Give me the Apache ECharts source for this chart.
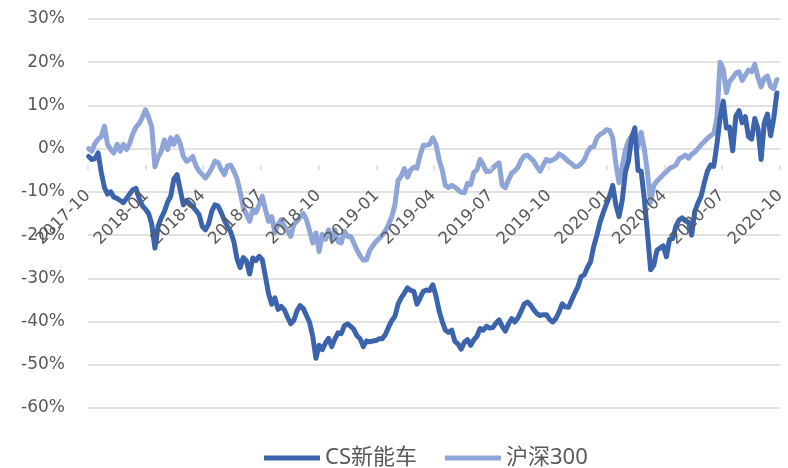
<!DOCTYPE html>
<html>
<head>
<meta charset="utf-8">
<script src="https://cdn.jsdelivr.net/npm/echarts@6/dist/echarts.min.js"></script>
<style>
  html, body { margin: 0; padding: 0; background: #ffffff; }
  #chart { width: 788px; height: 468px; }
</style>
</head>
<body>
<div id="chart"></div>
<script>
// Cumulative return (%) sampled every 5 calendar days from 2017-10-02
const startDate = [2017, 10, 2];
const stepDays = 5;

const seriesNames = ['CS新能车', '沪深300'];

const csNewEnergyVehicle = [
  -1.8,-2.5,-2.3,-1.0,-5.5,-9.0,-10.5,-10.0,-11.2,-11.5,
  -12.0,-12.5,-11.5,-10.5,-9.5,-9.2,-11.5,-13.2,-14.0,-15.0,
  -17.5,-23.0,-18.0,-16.0,-14.5,-12.4,-11.0,-7.0,-6.0,-9.5,
  -13.0,-12.0,-12.7,-13.4,-14.3,-15.3,-18.0,-18.8,-17.4,-14.5,
  -13.0,-13.3,-14.8,-16.6,-18.0,-19.3,-21.5,-25.5,-27.5,-25.2,
  -26.0,-29.0,-25.3,-25.9,-24.9,-25.7,-29.6,-33.6,-36.0,-34.5,
  -37.2,-36.5,-37.3,-39.0,-40.5,-39.7,-37.5,-36.3,-37.0,-38.6,
  -40.2,-43.5,-48.5,-45.5,-46.5,-45.0,-43.9,-45.8,-44.0,-42.6,
  -42.8,-41.0,-40.5,-41.1,-41.8,-43.3,-44.0,-45.8,-44.5,-44.7,
  -44.5,-44.4,-44.0,-44.0,-43.0,-41.3,-39.8,-38.8,-36.0,-34.5,
  -33.4,-32.2,-32.8,-33.0,-36.0,-34.5,-33.0,-32.7,-32.8,-31.5,
  -34.0,-37.5,-40.0,-42.0,-42.5,-42.0,-44.6,-45.2,-46.4,-44.8,
  -44.2,-45.5,-44.2,-43.4,-41.6,-42.0,-41.1,-41.5,-41.4,-40.4,
  -39.6,-41.1,-42.2,-40.5,-39.3,-40.1,-39.1,-37.6,-35.9,-35.5,
  -36.2,-37.3,-38.2,-38.6,-38.4,-38.4,-39.5,-40.1,-39.3,-37.8,
  -35.9,-36.6,-36.7,-35.0,-33.4,-31.9,-29.6,-29.2,-27.5,-26.1,
  -22.6,-20.0,-17.0,-14.8,-12.8,-11.0,-8.5,-13.0,-15.7,-12.0,
  -5.5,-2.8,2.5,4.8,-5.0,-5.2,-11.5,-19.5,-28.0,-27.0,
  -23.5,-23.0,-22.5,-25.0,-21.0,-20.8,-18.0,-16.5,-16.0,-16.7,
  -17.0,-20.0,-14.5,-12.6,-11.0,-7.9,-5.2,-3.8,-4.1,1.0,
  7.0,11.0,4.8,5.0,-0.5,7.5,8.8,6.0,7.4,2.8,
  2.2,7.0,4.6,-2.5,6.0,8.0,3.0,7.0,12.9
];

const hs300 = [
  0.0,-0.6,1.2,2.2,2.8,5.2,1.0,-0.2,-1.0,1.0,
  -0.6,1.0,-0.2,1.2,3.5,5.0,5.8,7.2,9.0,7.2,
  5.0,-4.2,-2.0,-0.6,2.0,-0.2,2.5,1.0,2.8,1.2,
  -1.8,-2.9,-2.5,-1.8,-4.0,-5.2,-6.0,-6.8,-5.8,-4.5,
  -2.9,-3.2,-4.8,-6.0,-4.0,-3.8,-5.2,-7.0,-10.0,-13.6,
  -15.2,-16.8,-14.1,-14.8,-13.0,-11.0,-14.1,-16.8,-15.7,-19.5,
  -17.5,-16.4,-18.0,-19.1,-20.3,-17.5,-16.8,-15.8,-15.0,-16.5,
  -19.0,-21.8,-19.5,-23.8,-19.8,-21.0,-18.8,-21.0,-18.8,-21.5,
  -21.8,-19.1,-20.3,-20.3,-21.8,-23.5,-24.8,-25.8,-25.7,-23.6,
  -22.5,-21.5,-20.8,-20.0,-19.0,-17.5,-15.8,-13.0,-7.4,-6.4,
  -4.6,-6.6,-4.9,-4.3,-4.5,-1.5,0.8,0.8,1.0,2.5,
  1.0,-2.5,-5.0,-8.5,-9.0,-8.5,-8.9,-9.5,-10.1,-10.2,
  -8.0,-8.3,-5.5,-4.9,-2.5,-3.8,-5.3,-5.3,-4.5,-3.8,
  -3.3,-8.5,-9.0,-7.2,-5.7,-5.1,-4.3,-2.7,-1.7,-1.5,
  -2.2,-2.9,-4.2,-5.2,-3.8,-2.5,-2.9,-2.6,-2.2,-1.2,
  -1.6,-2.3,-3.0,-3.5,-4.2,-4.1,-3.5,-2.6,-0.8,0.3,
  0.5,2.5,3.3,3.7,4.4,4.2,2.5,-3.5,-7.9,-4.2,
  -0.3,1.8,3.0,3.0,0.5,3.8,0.0,-5.5,-12.4,-8.5,
  -7.5,-6.8,-6.0,-5.3,-4.6,-4.2,-3.8,-2.4,-2.0,-1.5,
  -2.2,-1.3,-0.8,0.0,0.9,1.6,2.4,3.0,3.5,7.0,
  20.0,18.5,13.0,15.5,16.4,17.5,17.8,15.8,17.0,18.2,
  17.8,19.5,16.5,14.3,16.3,16.8,14.4,13.9,16.0
];

// Quarter tick labels on the date axis
const quarterLabels = [
  '2017-10','2018-01','2018-04','2018-07','2018-10','2019-01','2019-04',
  '2019-07','2019-10','2020-01','2020-04','2020-07','2020-10'
];

const yTicks = { min: -60, max: 30, step: 10 };

// Date index (local-time timestamps) for every sample
const dates = csNewEnergyVehicle.map((_, i) =>
  new Date(startDate[0], startDate[1] - 1, startDate[2] + i * stepDays).getTime());

function monthStart(label) {
  const parts = label.split('-').map(Number);
  return new Date(parts[0], parts[1] - 1, 1).getTime();
}
const quarterValues = quarterLabels.map(monthStart);

const textColor = '#595959';
const gridColor = '#d9d9d9';
const axisFont = '"DejaVu Sans", "Noto Sans CJK SC", sans-serif';

const chart = echarts.init(document.getElementById('chart'), null, { renderer: 'canvas' });

chart.setOption({
  animation: false,
  backgroundColor: '#ffffff',
  grid: { left: 88, right: -2, top: 19, bottom: 60, containLabel: false },
  legend: {
    data: seriesNames,
    top: 447,
    left: 264,
    padding: 0,
    icon: 'rect',
    itemWidth: 56,
    itemHeight: 5,
    itemGap: 28,
    textStyle: {
      color: textColor,
      fontSize: 22,
      fontFamily: '"Noto Sans", "Noto Sans CJK SC", sans-serif'
    }
  },
  xAxis: {
    // timestamps on a linear scale, ticks at quarter starts; drawn above the lines
    type: 'value',
    z: 10,
    min: quarterValues[0],
    max: quarterValues[quarterValues.length - 1],
    axisLine: { show: false, onZero: false },
    axisTick: {
      show: true,
      customValues: quarterValues,
      length: 5,
      lineStyle: { color: gridColor, width: 1.5 }
    },
    axisLabel: {
      customValues: quarterValues,
      rotate: 45,
      margin: 28,
      padding: [29, 0, 0, 0],
      color: textColor,
      fontSize: 16.5,
      fontFamily: axisFont,
      hideOverlap: false,
      showMinLabel: true,
      showMaxLabel: true,
      formatter: function (value) {
        const idx = quarterValues.indexOf(value);
        return idx >= 0 ? quarterLabels[idx] : '';
      }
    },
    splitLine: { show: false }
  },
  yAxis: {
    type: 'value',
    min: yTicks.min,
    max: yTicks.max,
    interval: yTicks.step,
    axisLine: { show: false },
    axisTick: { show: false },
    axisLabel: {
      formatter: '{value}%',
      color: textColor,
      fontSize: 17,
      fontFamily: axisFont,
      margin: 23
    },
    splitLine: { lineStyle: { color: gridColor, width: 1.5 } }
  },
  series: [
    {
      name: seriesNames[0],
      type: 'line',
      z: 3,
      showSymbol: false,
      symbol: 'none',
      data: dates.map((d, i) => [d, csNewEnergyVehicle[i]]),
      lineStyle: { color: '#3b64ad', width: 5, join: 'round', cap: 'round' },
      itemStyle: { color: '#3b64ad' }
    },
    {
      name: seriesNames[1],
      type: 'line',
      z: 2,
      showSymbol: false,
      symbol: 'none',
      data: dates.map((d, i) => [d, hs300[i]]),
      lineStyle: { color: '#8fa5d7', width: 5, join: 'round', cap: 'round' },
      itemStyle: { color: '#8fa5d7' }
    }
  ]
});

// Lift the date axis from the grid bottom up to the 0% line
const zeroY = chart.convertToPixel({ yAxisIndex: 0 }, 0);
const bottomY = chart.convertToPixel({ yAxisIndex: 0 }, yTicks.min);
chart.setOption({ xAxis: { offset: zeroY - bottomY } });
</script>
</body>
</html>
